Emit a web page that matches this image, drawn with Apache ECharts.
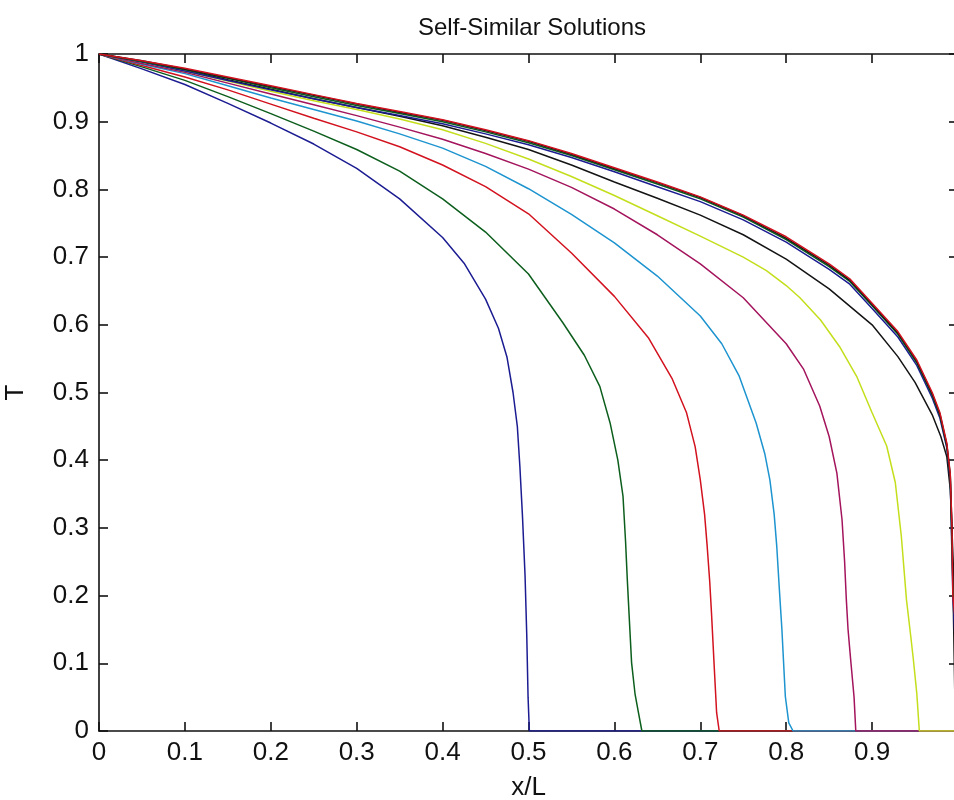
<!DOCTYPE html>
<html>
<head>
<meta charset="utf-8">
<script src="https://cdn.jsdelivr.net/npm/echarts@6/dist/echarts.min.js"></script>
<style>
html,body{margin:0;padding:0;background:#fff;}
#chart{width:954px;height:800px;}
</style>
</head>
<body>
<div id="chart"></div>
<script>
// ---- data (x/L, T) ----
const curveBlue1 = [[0,1],[0.05,0.978],[0.1,0.955],[0.15,0.927],[0.2,0.898],[0.25,0.867],[0.3,0.831],[0.35,0.786],[0.4,0.729],[0.425,0.691],[0.45,0.638],[0.465,0.595],[0.475,0.552],[0.482,0.5],[0.487,0.45],[0.49,0.39],[0.493,0.317],[0.496,0.229],[0.498,0.14],[0.4995,0.05],[0.501,0],[1,0]];
const curveGreen1 = [[0,1],[0.05,0.981],[0.1,0.961],[0.15,0.937],[0.2,0.912],[0.25,0.886],[0.3,0.859],[0.35,0.827],[0.4,0.786],[0.45,0.737],[0.5,0.675],[0.54,0.603],[0.565,0.555],[0.583,0.509],[0.595,0.455],[0.604,0.4],[0.61,0.347],[0.613,0.28],[0.615,0.224],[0.618,0.15],[0.62,0.101],[0.624,0.055],[0.628,0.027],[0.632,0],[1,0]];
const curveRed1 = [[0,1],[0.05,0.983],[0.1,0.966],[0.15,0.947],[0.2,0.926],[0.25,0.905],[0.3,0.885],[0.35,0.863],[0.4,0.836],[0.45,0.804],[0.5,0.764],[0.55,0.706],[0.6,0.642],[0.64,0.58],[0.667,0.521],[0.684,0.47],[0.694,0.42],[0.7,0.371],[0.705,0.32],[0.708,0.273],[0.711,0.22],[0.713,0.175],[0.716,0.1],[0.719,0.027],[0.722,0],[1,0]];
const curveCyan = [[0,1],[0.05,0.985],[0.1,0.971],[0.15,0.953],[0.2,0.935],[0.25,0.918],[0.3,0.901],[0.35,0.882],[0.4,0.861],[0.45,0.834],[0.5,0.801],[0.55,0.763],[0.6,0.721],[0.65,0.672],[0.7,0.613],[0.725,0.572],[0.745,0.525],[0.765,0.455],[0.775,0.41],[0.781,0.371],[0.786,0.32],[0.789,0.273],[0.792,0.21],[0.795,0.15],[0.797,0.1],[0.799,0.051],[0.803,0.012],[0.808,0],[1,0]];
const curveMagenta = [[0,1],[0.05,0.986],[0.1,0.973],[0.15,0.957],[0.2,0.941],[0.25,0.925],[0.3,0.909],[0.35,0.892],[0.4,0.874],[0.45,0.853],[0.5,0.83],[0.55,0.803],[0.6,0.771],[0.65,0.733],[0.7,0.69],[0.75,0.64],[0.8,0.572],[0.82,0.535],[0.839,0.48],[0.85,0.435],[0.859,0.381],[0.865,0.312],[0.868,0.25],[0.87,0.194],[0.872,0.15],[0.875,0.106],[0.879,0.05],[0.881,0],[1,0]];
const curveYellow = [[0,1],[0.05,0.988],[0.1,0.975],[0.15,0.96],[0.2,0.945],[0.25,0.931],[0.3,0.918],[0.35,0.904],[0.4,0.888],[0.45,0.868],[0.5,0.845],[0.55,0.819],[0.6,0.791],[0.65,0.761],[0.7,0.731],[0.75,0.7],[0.777,0.68],[0.8,0.658],[0.816,0.64],[0.84,0.607],[0.862,0.568],[0.882,0.524],[0.9,0.47],[0.917,0.421],[0.927,0.367],[0.934,0.288],[0.94,0.194],[0.945,0.14],[0.948,0.106],[0.952,0.056],[0.955,0],[1,0]];
const curveBlack1 = [[0,1],[0.05,0.989],[0.1,0.977],[0.15,0.962],[0.2,0.948],[0.25,0.934],[0.3,0.921],[0.35,0.908],[0.4,0.894],[0.45,0.877],[0.5,0.859],[0.55,0.836],[0.6,0.811],[0.65,0.787],[0.7,0.762],[0.75,0.733],[0.8,0.697],[0.85,0.653],[0.9,0.6],[0.93,0.553],[0.95,0.515],[0.97,0.467],[0.98,0.435],[0.987,0.405],[0.991,0.357],[0.993,0.3],[0.995,0.15],[0.997,0],[1,0]];
const curveBlue2 = [[0,1],[0.05,0.988],[0.1,0.975],[0.15,0.961],[0.2,0.947],[0.25,0.934],[0.3,0.921],[0.35,0.909],[0.4,0.897],[0.45,0.882],[0.5,0.866],[0.55,0.847],[0.6,0.826],[0.65,0.804],[0.7,0.782],[0.75,0.755],[0.8,0.722],[0.85,0.682],[0.874,0.66],[0.9,0.624],[0.93,0.582],[0.952,0.54],[0.97,0.492],[0.979,0.462],[0.987,0.418],[0.991,0.37],[0.994,0.2],[1,0.05]];
const curveGreen2 = [[0,1],[0.05,0.989],[0.1,0.977],[0.15,0.964],[0.2,0.95],[0.25,0.937],[0.3,0.924],[0.35,0.912],[0.4,0.9],[0.45,0.885],[0.5,0.869],[0.55,0.85],[0.6,0.829],[0.65,0.808],[0.7,0.786],[0.75,0.759],[0.8,0.726],[0.85,0.686],[0.874,0.664],[0.9,0.628],[0.93,0.586],[0.952,0.544],[0.97,0.496],[0.979,0.466],[0.987,0.421],[0.991,0.375],[0.994,0.22],[1,0.08]];
const curveBlack2 = [[0,1],[0.05,0.99],[0.1,0.978],[0.15,0.965],[0.2,0.952],[0.25,0.939],[0.3,0.926],[0.35,0.914],[0.4,0.902],[0.45,0.887],[0.5,0.871],[0.55,0.852],[0.6,0.831],[0.65,0.81],[0.7,0.788],[0.75,0.761],[0.8,0.728],[0.85,0.688],[0.874,0.666],[0.9,0.63],[0.93,0.588],[0.952,0.546],[0.97,0.498],[0.979,0.468],[0.987,0.423],[0.991,0.378],[0.994,0.26],[1,0.1]];
const curveRed2 = [[0,1],[0.05,0.99],[0.1,0.979],[0.15,0.966],[0.2,0.953],[0.25,0.94],[0.3,0.927],[0.35,0.915],[0.4,0.903],[0.45,0.888],[0.5,0.872],[0.55,0.853],[0.6,0.832],[0.65,0.811],[0.7,0.789],[0.75,0.762],[0.8,0.73],[0.85,0.69],[0.874,0.668],[0.9,0.632],[0.93,0.59],[0.952,0.548],[0.97,0.5],[0.979,0.47],[0.987,0.425],[0.991,0.38],[0.993,0.3],[0.994,0.2],[1,0.12]];

const xTickLabels = ['0','0.1','0.2','0.3','0.4','0.5','0.6','0.7','0.8','0.9',''];
const yTickLabels = ['0','0.1','0.2','0.3','0.4','0.5','0.6','0.7','0.8','0.9','1'];
const titleText = 'Self-Similar Solutions';
const xName = 'x/L';
const yName = 'T';

const curves = [
  {data: curveBlue1,   color: '#1c1c92'},
  {data: curveGreen1,  color: '#0c5e1c'},
  {data: curveRed1,    color: '#d2121e'},
  {data: curveCyan,    color: '#1d94cf'},
  {data: curveMagenta, color: '#a3145c'},
  {data: curveYellow,  color: '#c4de1c'},
  {data: curveBlack1,  color: '#141414'},
  {data: curveBlue2,   color: '#1c1c92'},
  {data: curveGreen2,  color: '#0c5e1c'},
  {data: curveBlack2,  color: '#141414'},
  {data: curveRed2,    color: '#d2121e'}
];

const FONT = "'Liberation Sans', Arial, sans-serif";
const chart = echarts.init(document.getElementById('chart'), null, {renderer: 'canvas'});

const idx = v => Math.round(v * 10);
const axisCommon = {
  type: 'value', min: 0, max: 1, interval: 0.1,
  splitLine: {show: false},
  axisLine: {show: true, onZero: false, lineStyle: {color: '#111', width: 1.6}},
  axisTick: {show: true, inside: true, length: 9, lineStyle: {color: '#111', width: 1.6}}
};

chart.setOption({
  animation: false,
  backgroundColor: '#fff',
  title: {
    text: titleText, left: 527, top: 11, textAlign: 'center',
    textStyle: {fontFamily: FONT, fontSize: 24, fontWeight: 'normal', color: '#111'}
  },
  grid: {left: 99, top: 54, width: 859, height: 677, containLabel: false, outerBoundsMode: 'none'},
  xAxis: [
    Object.assign({}, axisCommon, {
      position: 'bottom',
      name: xName, nameLocation: 'middle', nameGap: 44,
      nameTextStyle: {fontFamily: FONT, fontSize: 26, color: '#111'},
      axisLabel: {fontFamily: FONT, fontSize: 26, color: '#111', margin: 9,
        formatter: v => xTickLabels[idx(v)] ?? ''}
    }),
    Object.assign({}, axisCommon, {position: 'top', axisLabel: {show: false}})
  ],
  yAxis: [
    Object.assign({}, axisCommon, {
      position: 'left',
      name: yName, nameLocation: 'middle', nameGap: 70, nameRotate: 90,
      nameTextStyle: {fontFamily: FONT, fontSize: 26, color: '#111'},
      axisLabel: {fontFamily: FONT, fontSize: 26, color: '#111', margin: 10,
        formatter: v => yTickLabels[idx(v)] ?? ''}
    }),
    Object.assign({}, axisCommon, {position: 'right', axisLabel: {show: false}})
  ],
  series: curves.map((c, i) => ({
    type: 'line', data: c.data, xAxisIndex: 0, yAxisIndex: 0,
    showSymbol: false, symbol: 'none', smooth: false, clip: true,
    z: 2 + i * 0.01,
    lineStyle: {color: c.color, width: 1.5},
    itemStyle: {color: c.color}
  }))
});
</script>
</body>
</html>
